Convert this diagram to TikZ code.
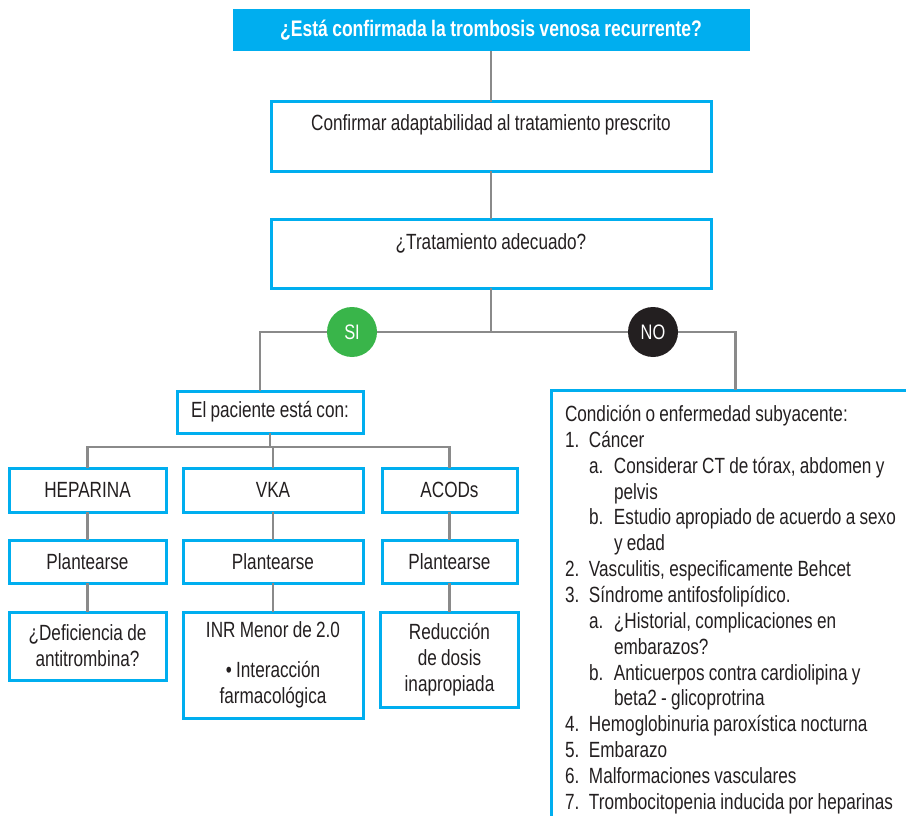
\documentclass[tikz,border=0pt]{standalone}
\usepackage{fontspec}
\setmainfont{Liberation Sans}[FakeStretch=0.78, WordSpace=0.9]
\usepackage{xcolor}
\usepackage{tikz}
\usetikzlibrary{positioning,calc}
\definecolor{boxcyan}{HTML}{00AEEF}
\definecolor{linegray}{HTML}{8A8A8A}
\definecolor{sigreen}{HTML}{39B54A}
\definecolor{noblack}{HTML}{231F20}
\definecolor{txtgray}{HTML}{231F20}
\tikzstyle{qbox} = [rectangle, draw=boxcyan, line width=3pt, inner sep=0pt, outer sep=0pt, align=center, text=txtgray, font=\fontsize{22}{26}\selectfont]
\tikzstyle{conn} = [draw=linegray, line width=2.5pt]
\tikzstyle{answer} = [circle, minimum size=50pt, inner sep=0pt, text=white, font=\fontsize{21}{26}\selectfont]
\newcommand{\condnum}[2]{\mbox{\makebox[24pt][l]{#1}#2}}
\newcommand{\condsub}[2]{\mbox{\hspace*{24pt}\makebox[25pt][l]{#1}#2}}
\newcommand{\condcont}[1]{\mbox{\hspace*{49pt}#1}}

\begin{document}
\begin{tikzpicture}[x=1pt, y=-1pt]
    \useasboundingbox (0,0) rectangle (906,816);
    \clip (0,0) rectangle (906,816);
    \node[fill=boxcyan, minimum width=517, minimum height=42, inner sep=0pt, outer sep=0pt, text=white, font=\bfseries\fontsize{22.5}{27}\selectfont] (quest) at (491,30) {¿Está confirmada la trombosis venosa recurrente?};
    \node[qbox, minimum width=440, text height=28.5pt, text depth=40.5pt, anchor=north] (adapt) at (491,102) {Confirmar adaptabilidad al tratamiento prescrito};
    \node[qbox, minimum width=440, text height=30.5pt, text depth=38.5pt, anchor=north] (trat) at (491,219) {¿Tratamiento adecuado?};
    \draw[conn] (quest) -- (adapt);
    \draw[conn] (adapt) -- (trat);

    \node[answer, fill=sigreen] (si) at (352,332) {SI};
    \node[answer, fill=noblack] (no) at (653,332) {NO};
    \coordinate (split) at (trat.south |- si);
    \node[qbox, minimum width=186, minimum height=42] (paciente) at (270,412) {El paciente está con:};
    \node[qbox, anchor=north west, align=left, text width=341pt, text height=15.5pt, inner xsep=14pt, inner ysep=14.5pt, minimum height=440, font=\fontsize{22}{25.85}\selectfont] (cond) at (551,390) {%
        \spaceskip=0pt\relax
        \mbox{Condición o enfermedad subyacente:}\\
        \condnum{1.}{Cáncer}\\
        \condsub{a.}{Considerar CT de tórax, abdomen y}\\
        \condcont{pelvis}\\
        \condsub{b.}{Estudio apropiado de acuerdo a sexo}\\
        \condcont{y edad}\\
        \condnum{2.}{Vasculitis, especificamente Behcet}\\
        \condnum{3.}{Síndrome antifosfolipídico.}\\
        \condsub{a.}{¿Historial, complicaciones en}\\
        \condcont{embarazos?}\\
        \condsub{b.}{Anticuerpos contra cardiolipina y}\\
        \condcont{beta2 - glicoprotrina}\\
        \condnum{4.}{Hemoglobinuria paroxística nocturna}\\
        \condnum{5.}{Embarazo}\\
        \condnum{6.}{Malformaciones vasculares}\\
        \condnum{7.}{Trombocitopenia inducida por heparinas}};
    \draw[conn] (trat.south) -- (split);
    \draw[conn] (split) -- (si);
    \draw[conn] (si) -| ([xshift=-10pt]paciente.north);
    \draw[conn] (split) -- (no);
    \draw[conn] (no) -| (cond.north);

    \draw[conn] (paciente.south) -- ++(0,14) coordinate (branch);
    \foreach \name/\x/\w/\lab in {hep/87.5/157/HEPARINA, vka/273/180/VKA, aco/449.5/135/ACODs} {
        \node[qbox, minimum width=\w, minimum height=44] (\name1) at (\x,490) {\lab};
        \node[qbox, minimum width=\w, minimum height=43] (\name2) at (\x,561.5) {Plantearse};
        \draw[conn] (\name1) -- (\name2);
    }
    \node[qbox, minimum width=157, minimum height=68] (hep3) at (87.5,646) {¿Deficiencia de\\antitrombina?};
    \node[qbox, minimum width=180, minimum height=106] (vka3) at (273,665) {INR Menor de 2.0\\[14pt]\textbullet\ Interacción\\farmacológica};
    \node[qbox, minimum width=138, minimum height=95] (aco3) at (449.5,659.5) {Reducción\\de dosis\\inapropiada};
    \foreach \name in {hep,vka,aco}
        \draw[conn] (\name2) -- (\name3);
    \draw[conn] (hep1.north) |- (branch) -| (aco1.north);
    \draw[conn] (vka1.north) -- (vka1.north |- branch);
\end{tikzpicture}
\end{document}
